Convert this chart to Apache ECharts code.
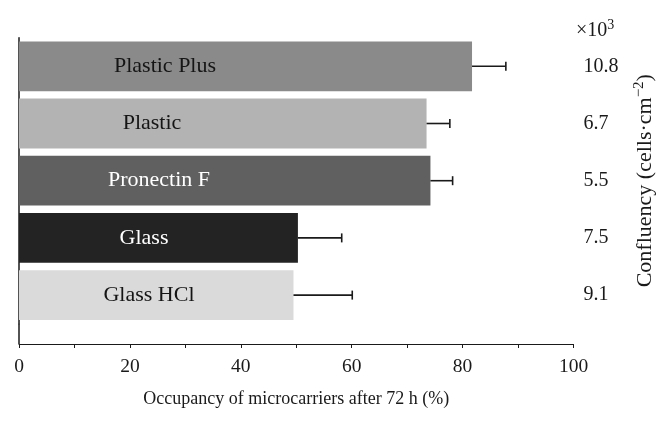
<!DOCTYPE html>
<html>
<head>
<meta charset="utf-8">
<script src="https://cdn.jsdelivr.net/npm/echarts@6/dist/echarts.min.js"></script>
<style>
html,body{margin:0;padding:0;background:#fff;}
#chart{width:664px;height:423px;}
</style>
</head>
<body>
<div id="chart"></div>
<script>
// ---- data ----
var categories = ['Plastic Plus', 'Plastic', 'Pronectin F', 'Glass', 'Glass HCl'];
var occupancy = [81.7, 73.5, 74.2, 50.3, 49.5];
var errorUpper = [87.8, 77.7, 78.2, 58.2, 60.1];
var confluency = ['10.8', '6.7', '5.5', '7.5', '9.1'];
var xTicks = [0, 20, 40, 60, 80, 100];

// ---- styles ----
var barColors = ['#8a8a8a', '#b3b3b3', '#606060', '#232323', '#dadada'];
var labelColors = ['#151515', '#151515', '#ffffff', '#ffffff', '#151515'];
var labelCenterX = [146, 133, 140, 125, 130];
var FONT = 'Liberation Serif';
var TXT = '#1a1a1a';

var gridLeft = 19, gridRight = 89, gridTop = 37.7, gridBottom = 99.3;
var axisOffset = 20.3;

var chart = echarts.init(document.getElementById('chart'), null, {renderer: 'canvas'});

var barData = occupancy.map(function (v, i) {
  return {
    value: v,
    itemStyle: {color: barColors[i]},
    label: {
      position: [labelCenterX[i], '50%'],
      align: 'center',
      verticalAlign: 'middle',
      color: labelColors[i]
    }
  };
});

var errData = occupancy.map(function (v, i) { return [i, v, errorUpper[i]]; });

var option = {
  animation: false,
  backgroundColor: '#ffffff',
  textStyle: {fontFamily: FONT},
  grid: {left: gridLeft, right: gridRight, top: gridTop, bottom: gridBottom, containLabel: false},
  xAxis: {
    type: 'value',
    min: 0, max: 100, interval: 10,
    offset: axisOffset,
    axisLine: {show: true, lineStyle: {color: '#1a1a1a', width: 1.2}},
    axisTick: {show: true, length: 4, inside: false, lineStyle: {color: '#1a1a1a', width: 1}},
    splitLine: {show: false},
    axisLabel: {
      color: TXT, fontFamily: FONT, fontSize: 19.5, margin: 13,
      formatter: function (v) { return xTicks.indexOf(v) >= 0 ? String(v) : ''; }
    },
    name: 'Occupancy of microcarriers after 72 h (%)',
    nameLocation: 'middle',
    nameGap: 46,
    nameTextStyle: {color: TXT, fontFamily: FONT, fontSize: 18}
  },
  yAxis: [{
    type: 'category',
    data: categories,
    inverse: true,
    axisLine: {show: true, lineStyle: {color: '#1a1a1a', width: 1.5}},
    axisTick: {show: false},
    axisLabel: {show: false},
    splitLine: {show: false}
  }, {
    type: 'category',
    data: confluency,
    inverse: true,
    position: 'right',
    axisLine: {show: false},
    axisTick: {show: false},
    splitLine: {show: false},
    axisLabel: {show: true, color: TXT, fontFamily: FONT, fontSize: 20, align: 'left', margin: 10},
    name: 'Confluency (cells·cm{sup|−2})',
    nameLocation: 'middle',
    nameRotate: 90,
    nameGap: 58,
    nameTextStyle: {
      color: TXT, fontFamily: FONT, fontSize: 22,
      rich: {sup: {fontSize: 15, verticalAlign: 'top', padding: [0, 0, 12, 0], color: TXT, fontFamily: FONT}}
    }
  }],
  series: [{
    type: 'bar',
    yAxisIndex: 0,
    data: barData,
    barCategoryGap: '13%',
    label: {show: true, formatter: '{b}', fontFamily: FONT, fontSize: 22},
    z: 2
  }, {
    type: 'custom',
    yAxisIndex: 0,
    data: errData,
    encode: {x: [1, 2], y: 0},
    z: 3,
    renderItem: function (params, api) {
      var idx = api.value(0);
      var start = api.coord([api.value(1), idx]);
      var end = api.coord([api.value(2), idx]);
      var cap = 4.5;
      var st = {stroke: '#1a1a1a', lineWidth: 1.6};
      return {
        type: 'group',
        children: [
          {type: 'line', shape: {x1: start[0], y1: start[1], x2: end[0], y2: end[1]}, style: st},
          {type: 'line', shape: {x1: end[0], y1: end[1] - cap, x2: end[0], y2: end[1] + cap}, style: st}
        ]
      };
    }
  }],
  graphic: [{
    type: 'line',
    shape: {x1: gridLeft, y1: 423 - gridBottom, x2: gridLeft, y2: 423 - gridBottom + axisOffset},
    style: {stroke: '#1a1a1a', lineWidth: 1.5},
    silent: true
  }, {
    type: 'text',
    left: 576,
    top: 18,
    style: {
      text: '{a|×10}{s|3}',
      rich: {
        a: {fontFamily: FONT, fontSize: 20, fill: TXT},
        s: {fontFamily: FONT, fontSize: 14, fill: TXT, verticalAlign: 'top', padding: [0, 0, 11, 0]}
      }
    }
  }]
};

chart.setOption(option);
</script>
</body>
</html>
